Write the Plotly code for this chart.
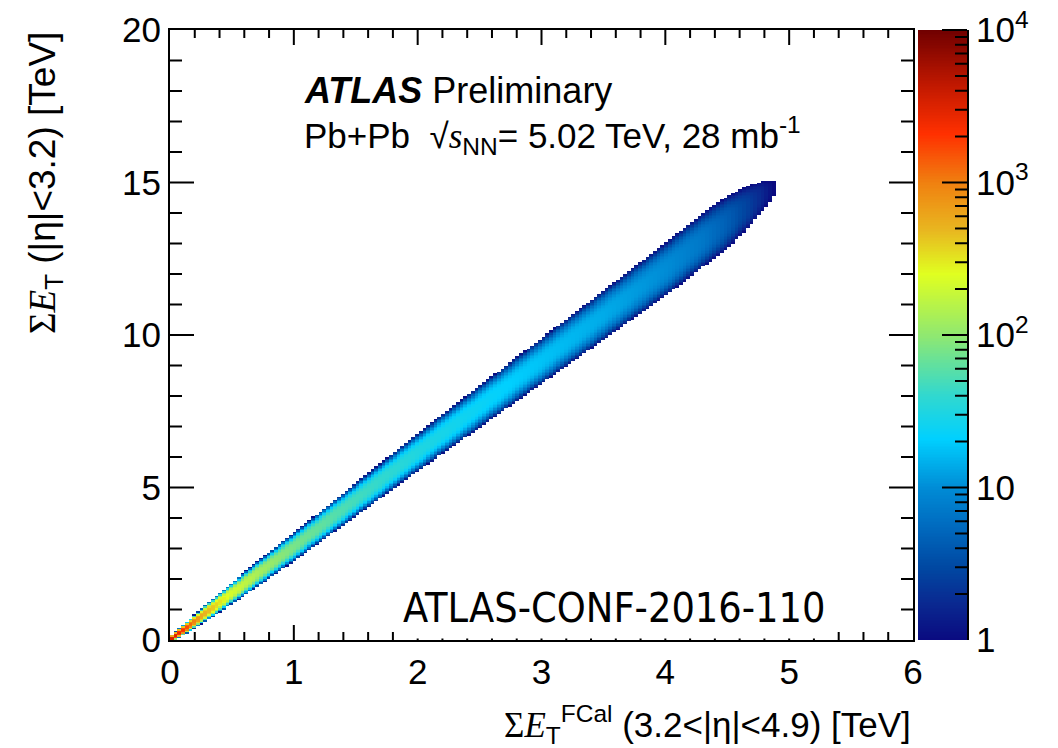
import numpy as np
import plotly.graph_objects as go

# ---- values (knots along the correlation band) ----
knot_x = [0.0, 0.1, 0.25, 0.5, 0.75, 1.0, 1.5, 2.0, 2.5, 3.0, 3.5, 4.0, 4.3, 4.5, 4.65, 4.78, 4.88]
ridge_y = [0.0, 0.3, 0.77, 1.53, 2.3, 3.05, 4.6, 6.15, 7.65, 9.15, 10.65, 12.15, 13.1, 13.7, 14.15, 14.55, 14.8]
edge_halfwidth = [0.12, 0.18, 0.26, 0.36, 0.43, 0.47, 0.55, 0.62, 0.69, 0.75, 0.81, 0.87, 0.89, 0.86, 0.72, 0.5, 0.25]
peak_counts = [4000, 2200, 600, 220, 120, 80, 48, 32, 24, 18, 14, 10, 7, 4.5, 2.8, 1.7, 1.0]

cbar_tick_vals = [1, 10, 100, 1000, 10000]
cbar_tick_text = ["1", "10", "10<sup>2</sup>", "10<sup>3</sup>", "10<sup>4</sup>"]

# histogram binning
x_edges = np.arange(0, 6.0 + 1e-9, 0.03)
y_edges = np.arange(0, 20.0 + 1e-9, 0.05)
xc = 0.5 * (x_edges[:-1] + x_edges[1:])
yc = 0.5 * (y_edges[:-1] + y_edges[1:])

cen = np.interp(xc, knot_x, ridge_y)
hw = np.interp(xc, knot_x, edge_halfwidth)
lpk = np.interp(xc, knot_x, np.log10(peak_counts))
dist = np.abs((yc[:, None] - cen[None, :]) / hw[None, :])
logz = lpk[None, :] * (1.0 - dist ** 3)
empty = (dist >= 1.0) | (xc[None, :] > knot_x[-1]) | (lpk[None, :] <= 0.0)
z_cells = [[None if empty[i, j] else round(float(logz[i, j]), 4) for j in range(len(xc))]
           for i in range(len(yc))]

colorscale = [
    [0.00, "#0a0a80"], [0.06, "#0a2890"], [0.12, "#0048a2"], [0.19, "#006cc0"],
    [0.25, "#008cd6"], [0.33, "#00d0ff"], [0.40, "#30d8d0"], [0.45, "#60e0a0"],
    [0.50, "#90e870"], [0.60, "#e0ff20"], [0.67, "#e8b820"], [0.75, "#f08010"],
    [0.83, "#ff3000"], [0.91, "#c01800"], [1.00, "#700000"],
]

FONT = "Liberation Sans, Arial, Helvetica, sans-serif"
SERIF = "Liberation Serif, Times New Roman, serif"
L, R, T, B = 170, 91, 30, 108
W, H = 1058, 748
pw, ph = W - L - R, H - T - B
def px(x): return (x - L) / pw
def py(y): return (H - B - y) / ph

fig = go.Figure()
fig.add_trace(go.Heatmap(x=xc.tolist(), y=yc.tolist(), z=z_cells, zmin=0, zmax=4,
                         colorscale=colorscale, showscale=False, hoverinfo="skip",
                         xaxis="x", yaxis="y"))

# colour bar drawn as its own small heatmap
cb_levels = np.linspace(0, 4, 401).tolist()
fig.add_trace(go.Heatmap(x=[0], y=cb_levels, z=[[v] for v in cb_levels], zmin=0, zmax=4,
                         colorscale=colorscale, showscale=False, hoverinfo="skip",
                         xaxis="x2", yaxis="y2"))

tickfont = dict(family=FONT, size=35, color="black")
base = dict(showline=True, linewidth=2, linecolor="black", ticks="", showgrid=False,
            zeroline=False, automargin=False)
xdom = [0, px(913)]

fig.update_layout(
    width=W, height=H, showlegend=False,
    paper_bgcolor="white", plot_bgcolor="white",
    margin=dict(l=L, r=R, t=T, b=B),
    xaxis=dict(domain=xdom, range=[0, 6], tick0=0, dtick=1, mirror=True, anchor="y",
               tickfont=tickfont, **base),
    yaxis=dict(domain=[0, 1], range=[0, 20], tick0=0, dtick=5, mirror=True, anchor="x",
               tickfont=tickfont, **base),
    xaxis2=dict(domain=[px(918), 1], range=[-0.5, 0.5], visible=False, anchor="y2"),
    yaxis2=dict(domain=[0, 1], range=[0, 4], anchor="x2", side="right",
                tickmode="array", tickvals=np.log10(cbar_tick_vals).tolist(),
                ticktext=cbar_tick_text, tickfont=tickfont, **base),
)

# ---- ROOT-style inside tick marks, drawn as head-less annotation arrows (pixel lengths) ----
def tick(xref, yref, x, y, ax, ay):
    fig.add_annotation(xref=xref, yref=yref, x=x, y=y, ax=ax, ay=ay, text="",
                       showarrow=True, arrowhead=0, arrowwidth=2, arrowcolor="black",
                       standoff=0, startstandoff=0, borderpad=0, borderwidth=0,
                       font=dict(size=1))

for i in range(1, 30):
    v = round(i * 0.2, 6)
    ln = 15 if i % 5 == 0 else 8
    tick("x", "y", v, 0, 0, -ln)
    tick("x", "y", v, 20, 0, ln)
for v in range(1, 20):
    ln = 24 if v % 5 == 0 else 12
    tick("x", "y", 0, v, ln, 0)
    tick("x", "y", 6, v, -ln, 0)
for n in range(4):
    for k in range(1, 10):
        lv = float(np.log10(k * 10 ** n))
        if lv <= 0:
            continue
        tick("x2", "y2", 0.5, lv, -(25 if k == 1 else 12), 0)
tick("x2", "y2", 0.5, 4.0, -25, 0)

fig.add_annotation(
    xref="paper", yref="paper", x=px(913), y=py(724), xanchor="right", yanchor="middle",
    text=f"<span style='font-family:{SERIF}'>Σ<i>E</i></span><sub>T</sub><sup>FCal</sup> (3.2&lt;|η|&lt;4.9) [TeV]",
    showarrow=False, font=dict(family=FONT, size=35, color="black"))
fig.add_annotation(
    xref="paper", yref="paper", x=px(45), y=1.0, xanchor="center", yanchor="top", textangle=-90,
    text=f"<span style='font-family:{SERIF}'>Σ<i>E</i></span><sub>T</sub> (|η|&lt;3.2) [TeV]",
    showarrow=False, font=dict(family=FONT, size=37, color="black"))
fig.add_annotation(
    xref="paper", yref="paper", x=px(302), y=py(91), xanchor="left", yanchor="middle",
    text="<b><i>ATLAS</i></b> Preliminary", showarrow=False,
    font=dict(family=FONT, size=36, color="black"))
fig.add_annotation(
    xref="paper", yref="paper", x=px(302), y=py(136), xanchor="left", yanchor="middle",
    text=f"Pb+Pb  √<span style='font-family:{SERIF}'><i>s</i></span><sub>NN</sub>= 5.02 TeV, 28 mb<sup>-1</sup>",
    showarrow=False, font=dict(family=FONT, size=35, color="black"))
fig.add_annotation(
    xref="paper", yref="paper", x=px(614), y=py(608), xanchor="center", yanchor="middle",
    text="ATLAS-CONF-2016-110", showarrow=False, bgcolor="white", borderpad=6,
    font=dict(family="DejaVu Sans Condensed, Liberation Sans Narrow, Roboto Condensed, Liberation Sans, sans-serif",
              size=41, color="black"))

fig.write_html("out.html")
